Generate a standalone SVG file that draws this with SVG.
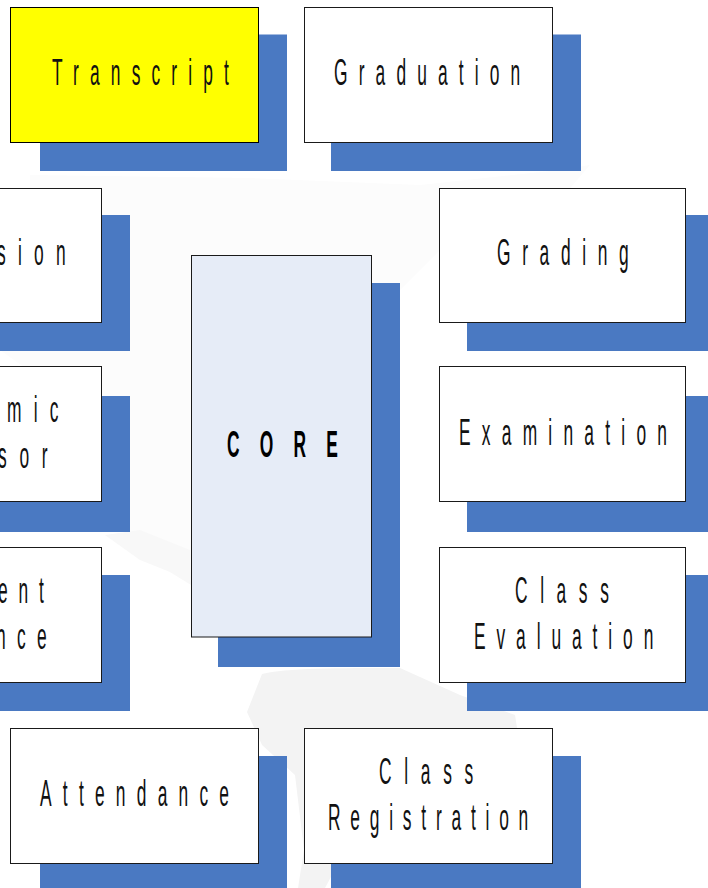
<svg xmlns="http://www.w3.org/2000/svg" width="708" height="888" viewBox="0 0 708 888">
<style>
.sh{fill:#4a79c2}
.b{fill:#fff;stroke:#1a1a1a;stroke-width:1}
.t{font-family:"Liberation Sans",Arial,sans-serif;font-size:37px;letter-spacing:23.700px;fill:#111}
.c{font-weight:bold;letter-spacing:43px;fill:#000}
</style>
<rect width="708" height="888" fill="#fff"/>
<g id="watermark">
<path d="M30 175 L250 178 L420 185 L560 170 L590 165 L560 200 L500 215 L440 250 L400 290 L400 420 L375 520 L300 540 L190 560 L150 550 L120 530 L100 470 L70 400 L0 350 L30 240Z" fill="#fcfcfc"/>
<path d="M105 535 L140 530 L190 550 L191 585 L170 572 L140 560Z" fill="#f8f8f8"/>
<path d="M262 674 C285 668 340 668 400 668 L460 695 L515 715 L517 728 L440 760 L370 800 L340 860 L325 888 L298 888 L304 850 L295 775 L262 745 L247 712Z" fill="#f3f3f3"/>
</g>
<g id="connectors"></g>
<g id="node-transcript"><rect class="sh" x="40" y="34.500" width="247" height="136.500"/><rect x="10.500" y="7.500" width="248" height="135" fill="#ff0" stroke="#000"/><text class="t" transform="translate(52 85) scale(.47 1)">Transcript</text></g>
<g id="node-graduation"><rect class="sh" x="331" y="34.500" width="250" height="136.500"/><rect class="b" x="304.500" y="7.500" width="248" height="135"/><text class="t" transform="translate(334 85) scale(.47 1)">Graduation</text></g>
<g id="node-admission"><rect class="sh" x="-30" y="215" width="160" height="136"/><rect class="b" x="-150" y="188.500" width="251.500" height="134"/><text class="t" style="letter-spacing:26px" transform="translate(-3 265) scale(.47 1)">sion</text></g>
<g id="node-grading"><rect class="sh" x="467" y="215" width="241" height="136"/><rect class="b" x="439.500" y="188.500" width="246" height="134"/><text class="t" style="letter-spacing:24.800px" transform="translate(497 265) scale(.47 1)">Grading</text></g>
<g id="node-advisor"><rect class="sh" x="-30" y="396" width="160" height="136"/><rect class="b" x="-150" y="366.500" width="251.500" height="135"/><text class="t" style="letter-spacing:26px" transform="translate(7 422) scale(.47 1)">mic</text><text class="t" style="letter-spacing:27px" transform="translate(-2 468) scale(.47 1)">sor</text></g>
<g id="node-core"><rect class="sh" x="218" y="283" width="182" height="384"/><rect x="191.500" y="255.500" width="180" height="381.500" fill="#e6ecf7" stroke="#1a1a1a"/><text class="t c" transform="translate(227 457) scale(.47 1)">CORE</text></g>
<g id="node-examination"><rect class="sh" x="467" y="396" width="241" height="136"/><rect class="b" x="439.500" y="366.500" width="246" height="135"/><text class="t" style="letter-spacing:23.900px" transform="translate(459 445) scale(.47 1)">Examination</text></g>
<g id="node-guidance"><rect class="sh" x="-30" y="575" width="160" height="136"/><rect class="b" x="-150" y="547.500" width="251.500" height="135"/><text class="t" style="letter-spacing:23px" transform="translate(-2 603) scale(.47 1)">ent</text><text class="t" style="letter-spacing:24px" transform="translate(-4 649) scale(.47 1)">nce</text></g>
<g id="node-evaluation"><rect class="sh" x="467" y="575" width="241" height="136"/><rect class="b" x="439.500" y="547.500" width="246" height="135"/><text class="t" style="letter-spacing:26.800px" transform="translate(515 603) scale(.47 1)">Class</text><text class="t" style="letter-spacing:23.200px" transform="translate(474 649) scale(.47 1)">Evaluation</text></g>
<g id="node-attendance"><rect class="sh" x="40" y="756" width="247" height="140"/><rect class="b" x="10.500" y="728.500" width="248" height="135"/><text class="t" style="letter-spacing:23.900px" transform="translate(40 806) scale(.47 1)">Attendance</text></g>
<g id="node-registration"><rect class="sh" x="331" y="756" width="250" height="140"/><rect class="b" x="304.500" y="728.500" width="248" height="135"/><text class="t" style="letter-spacing:27px" transform="translate(379 784) scale(.47 1)">Class</text><text class="t" style="letter-spacing:20.800px" transform="translate(328 830) scale(.47 1)">Registration</text></g>
</svg>
